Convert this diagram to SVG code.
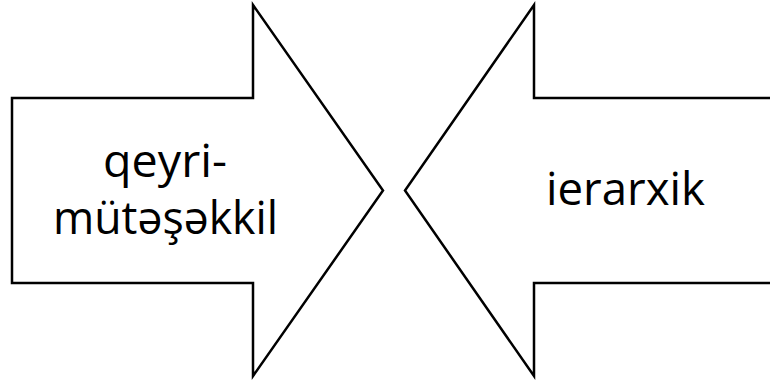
<svg xmlns="http://www.w3.org/2000/svg" width="770" height="381" viewBox="0 0 770 381">
<style>
.shape{fill:#fff;stroke:#000;stroke-width:2.5;stroke-linejoin:miter}
.lbl{font-family:"Open Sans","Liberation Sans",sans-serif;font-size:45px;fill:#000}
</style>
<rect width="770" height="381" fill="#fff"/>
<g id="left-arrow">
<path class="shape" d="M12,98 H253 V5 L383,190.5 L253,376 V283 H12 Z"/>
<text class="lbl" x="103" y="177" textLength="124" lengthAdjust="spacingAndGlyphs">qeyri-</text>
<text class="lbl" x="53" y="234" textLength="225" lengthAdjust="spacingAndGlyphs">mütəşəkkil</text>
</g>
<g id="right-arrow">
<path class="shape" d="M772,98 H534 V5 L405,190.5 L534,376 V283 H772"/>
<text class="lbl" x="546" y="205" textLength="159" lengthAdjust="spacingAndGlyphs">ierarxik</text>
</g>
<g id="connectors"/>
</svg>
